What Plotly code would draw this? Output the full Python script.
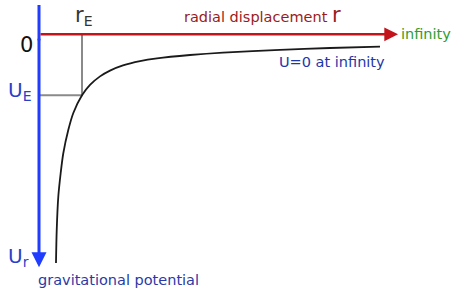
import plotly.graph_objects as go

# Curve: radial displacement r (r_E = 1) and potential U (U_E = -1)
r_vals = [0.395, 0.412, 0.449, 0.505, 0.565, 0.681, 0.798, 1.0, 1.186, 1.419, 1.651,
          1.953, 2.349, 2.744, 3.512, 4.279, 5.605, 6.767, 7.930]
U_vals = [-3.75, -3.21, -2.66, -2.27, -1.95, -1.57, -1.29, -1.0, -0.83, -0.69, -0.595,
          -0.51, -0.44, -0.395, -0.34, -0.30, -0.255, -0.225, -0.203]

r_E = 1.0
U_E = -1.0
r_axis_end = 8.35
U_axis_top = 0.48
U_axis_end = -3.82

FONT = "DejaVu Sans"

fig = go.Figure()

# gray guide lines to r_E / U_E
fig.add_trace(go.Scatter(x=[r_E, r_E, 0], y=[0, U_E, U_E], mode="lines",
                         line=dict(color="#8a8a8a", width=2), hoverinfo="skip"))
# potential curve
fig.add_trace(go.Scatter(x=r_vals, y=U_vals, mode="lines", line_shape="spline",
                         line=dict(color="#1a1a1a", width=1.8, smoothing=0.8), hoverinfo="skip"))
# blue vertical axis (top part without arrow)
fig.add_trace(go.Scatter(x=[0, 0], y=[U_axis_top, -0.1], mode="lines",
                         line=dict(color="#1f3cff", width=3), hoverinfo="skip"))

annotations = []
# red horizontal arrow
annotations.append(dict(x=r_axis_end, y=0, ax=0, ay=0, xref="x", yref="y", axref="x", ayref="y",
                        showarrow=True, arrowhead=2, arrowsize=1.1, arrowwidth=2.5,
                        arrowcolor="#c3141c", text=""))
# blue vertical arrow
annotations.append(dict(x=0, y=U_axis_end, ax=0, ay=-0.05, xref="x", yref="y", axref="x", ayref="y",
                        showarrow=True, arrowhead=2, arrowsize=1.0, arrowwidth=3,
                        arrowcolor="#1f3cff", text=""))

def txt(x, y, t, color, size, xanchor="center", yanchor="middle"):
    annotations.append(dict(x=x, y=y, xref="x", yref="y", text=t, showarrow=False,
                            xanchor=xanchor, yanchor=yanchor,
                            font=dict(family=FONT, size=size, color=color)))

SUB = "<sub><span style='font-size:14px'>{}</span></sub>"

txt(1.05, 0.30, "r" + SUB.format("E"), "#333333", 21)
txt(-0.30, -0.17, "0", "#111111", 21)
txt(-0.45, -0.93, "U" + SUB.format("E"), "#2a3fc8", 20)
txt(-0.48, -3.65, "U" + SUB.format("r"), "#2a3fc8", 20)
txt(5.19, 0.31, "radial displacement <span style='font-size:21px'>r</span>", "#9b1b1b", 14.5)
txt(8.38, 0.0, "infinity", "#2e9e2e", 14.5, xanchor="left")
txt(6.81, -0.45, "U=0 at infinity", "#1e36a8", 14.5)
txt(-0.07, -4.03, "gravitational potential", "#2a3aa5", 14.5, xanchor="left")

fig.update_layout(
    width=454, height=290,
    margin=dict(l=0, r=0, t=0, b=0),
    paper_bgcolor="white", plot_bgcolor="white",
    showlegend=False,
    annotations=annotations,
    xaxis=dict(range=[-0.907, 9.651], visible=False, fixedrange=True),
    yaxis=dict(range=[-4.192, 0.562], visible=False, fixedrange=True),
)

fig.write_html("out.html")
